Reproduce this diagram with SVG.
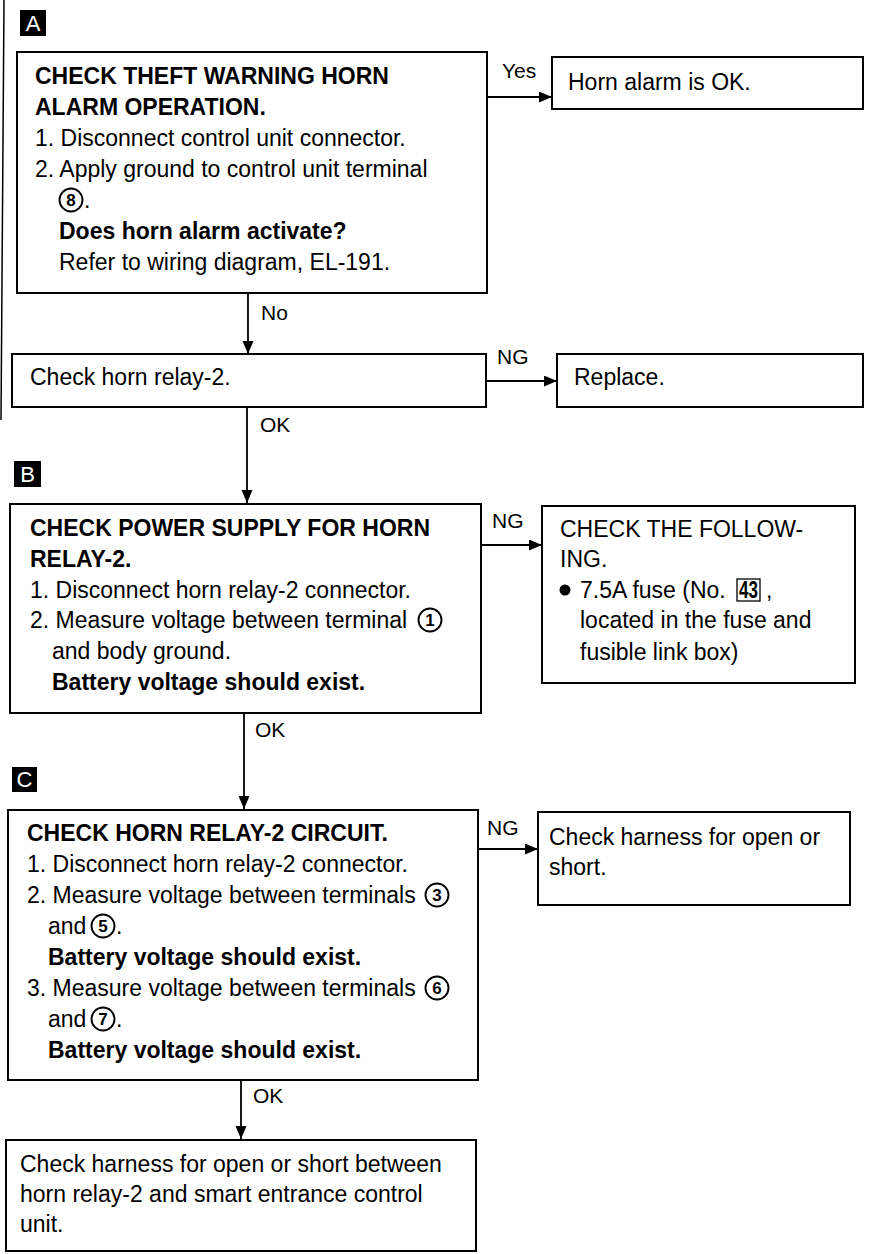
<svg xmlns="http://www.w3.org/2000/svg" width="872" height="1254" viewBox="0 0 872 1254">
<style>
.bg{fill:#fff}
.box{fill:#fff;stroke:#000;stroke-width:2}
.t{font-family:"Liberation Sans",Arial,sans-serif;font-size:23px;fill:#000}
.b{font-weight:bold}
.lbl{font-family:"Liberation Sans",Arial,sans-serif;font-size:21px;fill:#000}
.tag{fill:#000}
.tagt{font-family:"Liberation Sans",Arial,sans-serif;font-size:22px;fill:#fff;text-anchor:middle}
.cl{stroke:#000;stroke-width:1.8;fill:none}
.cn{fill:none;stroke:#000;stroke-width:1.9}
.cnt{font-family:"Liberation Sans",Arial,sans-serif;font-size:17px;font-weight:bold;fill:#000;text-anchor:middle}
.scan{stroke:#000;stroke-width:1.5}
</style>
<defs>
<marker id="arr" markerUnits="userSpaceOnUse" markerWidth="14" markerHeight="12" refX="13" refY="5.5" orient="auto">
<path d="M0,0 L13,5.5 L0,11 Z" fill="#000"/>
</marker>
</defs>
<rect class="bg" x="0" y="0" width="872" height="1254"/>
<line class="scan" x1="4" y1="0" x2="1" y2="420"/>

<g id="connectors">
<line class="cl" x1="487" y1="97" x2="552" y2="97" marker-end="url(#arr)"/>
<text class="lbl" x="502" y="78">Yes</text>
<line class="cl" x1="248" y1="293" x2="248" y2="354" marker-end="url(#arr)"/>
<text class="lbl" x="261" y="320">No</text>
<line class="cl" x1="486" y1="381" x2="557" y2="381" marker-end="url(#arr)"/>
<text class="lbl" x="497" y="364">NG</text>
<line class="cl" x1="247" y1="407" x2="247" y2="503" marker-end="url(#arr)"/>
<text class="lbl" x="260" y="432">OK</text>
<line class="cl" x1="481" y1="545" x2="542" y2="545" marker-end="url(#arr)"/>
<text class="lbl" x="492" y="528">NG</text>
<line class="cl" x1="244" y1="713" x2="244" y2="809" marker-end="url(#arr)"/>
<text class="lbl" x="255" y="737">OK</text>
<line class="cl" x1="478" y1="849" x2="538" y2="849" marker-end="url(#arr)"/>
<text class="lbl" x="487" y="835">NG</text>
<line class="cl" x1="241" y1="1080" x2="241" y2="1139" marker-end="url(#arr)"/>
<text class="lbl" x="253" y="1103">OK</text>
</g>

<g id="tagA"><rect class="tag" x="20" y="10" width="26" height="26"/><text class="tagt" x="33" y="31">A</text></g>
<g id="tagB"><rect class="tag" x="14" y="461" width="27" height="26"/><text class="tagt" x="27.5" y="482">B</text></g>
<g id="tagC"><rect class="tag" x="12" y="767" width="25" height="25"/><text class="tagt" x="24.5" y="787">C</text></g>

<g id="nodeA">
<rect class="box" x="17" y="52" width="470" height="241"/>
<text class="t b" x="35" y="84">CHECK THEFT WARNING HORN</text>
<text class="t b" x="35" y="115">ALARM OPERATION.</text>
<text class="t" x="35" y="146">1. Disconnect control unit connector.</text>
<text class="t" x="35" y="177">2. Apply ground to control unit terminal</text>
<circle class="cn" cx="71" cy="200" r="11.5"/><text class="cnt" x="71" y="206">8</text>
<text class="t" x="84" y="208">.</text>
<text class="t b" x="59" y="239">Does horn alarm activate?</text>
<text class="t" x="59" y="270">Refer to wiring diagram, EL-191.</text>
</g>

<g id="nodeOK">
<rect class="box" x="552" y="57" width="311" height="52"/>
<text class="t" x="568" y="90">Horn alarm is OK.</text>
</g>

<g id="nodeRelay">
<rect class="box" x="12" y="354" width="474" height="53"/>
<text class="t" x="30" y="385">Check horn relay-2.</text>
</g>

<g id="nodeReplace">
<rect class="box" x="557" y="354" width="306" height="53"/>
<text class="t" x="574" y="385">Replace.</text>
</g>

<g id="nodeB">
<rect class="box" x="10" y="504" width="471" height="209"/>
<text class="t b" x="30" y="536">CHECK POWER SUPPLY FOR HORN</text>
<text class="t b" x="30" y="567">RELAY-2.</text>
<text class="t" x="30" y="598">1. Disconnect horn relay-2 connector.</text>
<text class="t" x="30" y="628">2. Measure voltage between terminal</text>
<circle class="cn" cx="430" cy="620" r="11.5"/><text class="cnt" x="430" y="626">1</text>
<text class="t" x="52" y="659">and body ground.</text>
<text class="t b" x="52" y="690">Battery voltage should exist.</text>
</g>

<g id="nodeFuse">
<rect class="box" x="542" y="506" width="313" height="177"/>
<text class="t" x="560" y="537">CHECK THE FOLLOW-</text>
<text class="t" x="560" y="567">ING.</text>
<circle cx="565" cy="590" r="5.5" fill="#000"/>
<text class="t" x="580" y="598">7.5A fuse (No.</text>
<rect x="737" y="579" width="23" height="22" fill="none" stroke="#000" stroke-width="1.3"/>
<text class="t b" x="748.5" y="598" text-anchor="middle" font-size="21" textLength="19" lengthAdjust="spacingAndGlyphs">43</text>
<text class="t" x="766" y="598">,</text>
<text class="t" x="580" y="628">located in the fuse and</text>
<text class="t" x="580" y="660">fusible link box)</text>
</g>

<g id="nodeC">
<rect class="box" x="8" y="810" width="470" height="270"/>
<text class="t b" x="27" y="841">CHECK HORN RELAY-2 CIRCUIT.</text>
<text class="t" x="27" y="872">1. Disconnect horn relay-2 connector.</text>
<text class="t" x="27" y="903">2. Measure voltage between terminals</text>
<circle class="cn" cx="437" cy="895" r="11.5"/><text class="cnt" x="437" y="901">3</text>
<text class="t" x="48" y="934">and</text>
<circle class="cn" cx="103" cy="926" r="11.5"/><text class="cnt" x="103" y="932">5</text>
<text class="t" x="116" y="934">.</text>
<text class="t b" x="48" y="965">Battery voltage should exist.</text>
<text class="t" x="27" y="996">3. Measure voltage between terminals</text>
<circle class="cn" cx="437" cy="988" r="11.5"/><text class="cnt" x="437" y="994">6</text>
<text class="t" x="48" y="1027">and</text>
<circle class="cn" cx="103" cy="1019" r="11.5"/><text class="cnt" x="103" y="1025">7</text>
<text class="t" x="116" y="1027">.</text>
<text class="t b" x="48" y="1058">Battery voltage should exist.</text>
</g>

<g id="nodeHarness1">
<rect class="box" x="538" y="812" width="312" height="93"/>
<text class="t" x="549" y="845">Check harness for open or</text>
<text class="t" x="549" y="875">short.</text>
</g>

<g id="nodeHarness2">
<rect class="box" x="6" y="1140" width="470" height="111"/>
<text class="t" x="20" y="1172">Check harness for open or short between</text>
<text class="t" x="20" y="1202">horn relay-2 and smart entrance control</text>
<text class="t" x="20" y="1232">unit.</text>
</g>
</svg>
